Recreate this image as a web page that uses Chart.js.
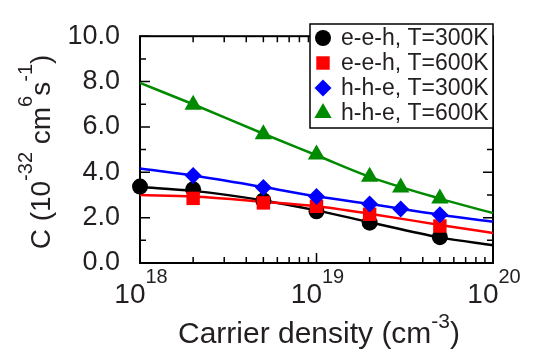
<!DOCTYPE html>
<html><head><meta charset="utf-8">
<script src="https://cdn.jsdelivr.net/npm/chart.js@4/dist/chart.umd.min.js"></script>
<style>html,body{margin:0;padding:0;background:#fff}#wrap{width:542px;height:356px}</style>
</head><body><div id="wrap"><canvas id="c" width="542" height="356"></canvas></div>
<script>
// ---- data ----
const fitDensity = [1e18, 2e18, 5e18, 1e19, 2e19, 5e19, 1e20];
const eeh300Fit = [3.35, 3.18, 2.76, 2.32, 1.80, 1.13, 0.78];
const eeh600Fit = [3.00, 2.93, 2.70, 2.50, 2.17, 1.68, 1.32];
const hhe300Fit = [4.17, 3.86, 3.35, 2.94, 2.60, 2.13, 1.82];
const hhe600Fit = [7.94, 7.00, 5.70, 4.75, 3.80, 2.84, 2.20];

const eeh300X = [1e18, 2e18, 5e18, 1e19, 2e19, 5e19];
const eeh300Y = [3.37, 3.25, 2.76, 2.28, 1.78, 1.14];
const eeh600X = [2e18, 5e18, 1e19, 2e19, 5e19];
const eeh600Y = [2.85, 2.65, 2.50, 2.15, 1.63];
const hhe300X = [2e18, 5e18, 1e19, 2e19, 3e19, 5e19];
const hhe300Y = [3.86, 3.33, 2.93, 2.60, 2.38, 2.13];
const hhe600X = [2e18, 5e18, 1e19, 2e19, 3e19, 5e19];
const hhe600Y = [6.98, 5.68, 4.78, 3.80, 3.33, 2.84];

const seriesNames = ['e-e-h, T=300K', 'e-e-h, T=600K', 'h-h-e, T=300K', 'h-h-e, T=600K'];
const xTickExps = [18, 19, 20];
const yTicks = [0, 2, 4, 6, 8, 10];

const colors = ['#000000', '#ff0000', '#0000ff', '#008a00'];
const styles = ['circle', 'rect', 'rectRot', 'triangle'];
const radii = [8, 9.5, 8.5, 10];

const pts = (xs, ys) => xs.map((x, i) => ({x: x, y: ys[i]}));
const fits = [eeh300Fit, eeh600Fit, hhe300Fit, hhe600Fit];
const mx = [eeh300X, eeh600X, hhe300X, hhe600X];
const my = [eeh300Y, eeh600Y, hhe300Y, hhe600Y];

const datasets = [];
for (let i = 0; i < 4; i++) {
  datasets.push({label: seriesNames[i] + ' fit', data: pts(fitDensity, fits[i]), borderColor: colors[i],
    borderWidth: 2.5, pointRadius: 0, showLine: true, fill: false, tension: 0.3, cubicInterpolationMode: 'monotone', order: 10 - i});
}
for (let i = 0; i < 4; i++) {
  datasets.push({label: seriesNames[i], data: pts(mx[i], my[i]), backgroundColor: colors[i], borderColor: colors[i],
    borderWidth: 0, pointStyle: styles[i], pointRadius: radii[i], showLine: false, order: 4 - i});
}

const FONT = '"Liberation Sans", Arial, sans-serif';
const TXT = '#231f20';

function rich(ctx, parts, size, supSize, raise) {
  let w = 0;
  parts.forEach(p => { ctx.font = (p[1] ? supSize : size) + 'px ' + FONT; p.w = ctx.measureText(p[0]).width; w += p.w; });
  let x = -w / 2;
  parts.forEach(p => {
    ctx.font = (p[1] ? supSize : size) + 'px ' + FONT;
    ctx.fillText(p[0], x, p[1] ? -raise : 0);
    x += p.w;
  });
}

const decor = {
  id: 'decor',
  beforeDatasetsDraw(chart) {
    const {ctx, chartArea: a, scales: {x, y}} = chart;
    ctx.save();
    ctx.strokeStyle = '#000'; ctx.lineWidth = 1.5;
    ctx.beginPath();
    for (let v = 0; v <= 10; v += 1) {
      const py = y.getPixelForValue(v);
      const L = v % 2 === 0 ? 10 : 6;
      ctx.moveTo(a.left, py); ctx.lineTo(a.left + L, py);
      ctx.moveTo(a.right, py); ctx.lineTo(a.right - L, py);
    }
    for (let e = 18; e < 20; e++) {
      for (let m = 1; m <= 10; m++) {
        const v = m * Math.pow(10, e);
        const px = x.getPixelForValue(v);
        const L = (m === 1 || m === 10) ? 10 : 6;
        ctx.moveTo(px, a.bottom); ctx.lineTo(px, a.bottom - L);
        ctx.moveTo(px, a.top); ctx.lineTo(px, a.top + L);
      }
    }
    ctx.stroke();
    ctx.lineWidth = 2;
    ctx.strokeRect(a.left, a.top, a.right - a.left, a.bottom - a.top);
    ctx.fillStyle = TXT; ctx.textBaseline = 'alphabetic';
    xTickExps.forEach(e => {
      const px = x.getPixelForValue(Math.pow(10, e));
      ctx.save(); ctx.translate(px + 1, 303);
      rich(ctx, [['10', false], [String(e), true]], 28, 20, 20);
      ctx.restore();
    });
    ctx.save(); ctx.translate(319, 343);
    rich(ctx, [['Carrier density (cm', false], ['-3', true], [')', false]], 30, 21, 15);
    ctx.restore();
    ctx.save(); ctx.translate(50, 152); ctx.rotate(-Math.PI / 2);
    rich(ctx, [['C (10', false], ['-32', true], [' cm', false], ['6', true], ['s', false], ['-1', true], [')', false]], 28, 20, 18);
    ctx.restore();
    ctx.restore();
  },
  afterDatasetsDraw(chart) {
    const {ctx} = chart;
    ctx.save();
    const bx = 310, by = 24, bw = 183, bh = 104;
    ctx.fillStyle = '#fff'; ctx.fillRect(bx, by, bw, bh);
    ctx.strokeStyle = '#000'; ctx.lineWidth = 1.5; ctx.strokeRect(bx, by, bw, bh);
    for (let i = 0; i < 4; i++) {
      const cy = 38 + i * 25, cx = 323;
      ctx.fillStyle = colors[i];
      const r = radii[i];
      ctx.beginPath();
      if (styles[i] === 'circle') { ctx.arc(cx, cy, r, 0, Math.PI * 2); }
      else if (styles[i] === 'rect') { const s = r * Math.SQRT1_2; ctx.rect(cx - s, cy - s, 2 * s, 2 * s); }
      else if (styles[i] === 'rectRot') { ctx.moveTo(cx - r, cy); ctx.lineTo(cx, cy - r); ctx.lineTo(cx + r, cy); ctx.lineTo(cx, cy + r); ctx.closePath(); }
      else { ctx.moveTo(cx, cy - r); ctx.lineTo(cx + r * 0.866, cy + r / 2); ctx.lineTo(cx - r * 0.866, cy + r / 2); ctx.closePath(); }
      ctx.fill();
      ctx.fillStyle = TXT; ctx.font = '23px ' + FONT; ctx.textBaseline = 'middle'; ctx.textAlign = 'left';
      ctx.fillText(seriesNames[i], 341, cy + 1);
    }
    ctx.restore();
  }
};

new Chart(document.getElementById('c'), {
  type: 'scatter',
  data: {datasets: datasets},
  plugins: [decor],
  options: {
    responsive: false, animation: false, clip: false,
    layout: {padding: {top: 17, right: 49, left: 0, bottom: 0}},
    plugins: {legend: {display: false}, tooltip: {enabled: false}},
    scales: {
      x: {type: 'logarithmic', min: 1e18, max: 1e20,
        grid: {display: false, drawTicks: false}, border: {display: false},
        ticks: {display: false},
        afterFit: s => { s.height = 93; }},
      y: {min: 0, max: 10,
        afterBuildTicks: s => { s.ticks = yTicks.map(v => ({value: v})); },
        grid: {display: false, drawTicks: false}, border: {display: false},
        ticks: {padding: 20, color: TXT, font: {size: 27, family: FONT}, callback: v => Number(v).toFixed(1)},
        afterFit: s => { s.width = 140; }}
    }
  }
});
</script></body></html>
